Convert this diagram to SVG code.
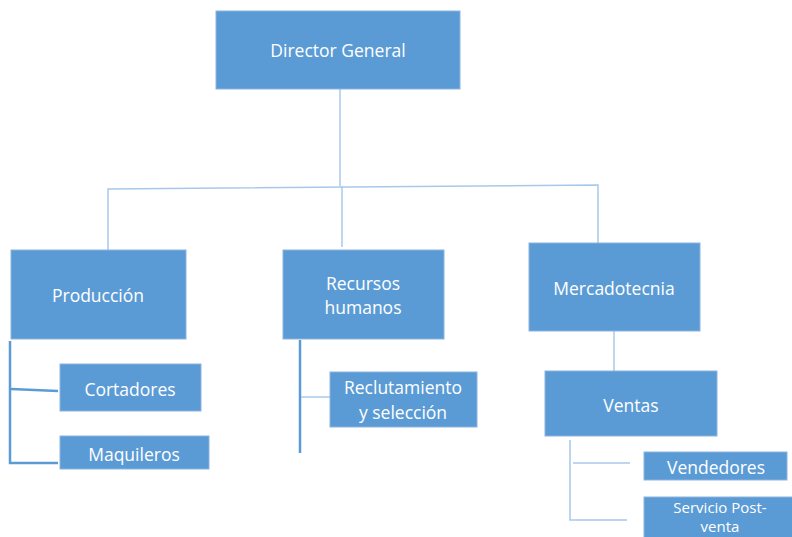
<svg xmlns="http://www.w3.org/2000/svg" width="792" height="537" viewBox="0 0 792 537">
<style>
.box{fill:#5b9bd5;stroke:#8db3de;stroke-width:1}
.t{fill:#ffffff;font-family:"Open Sans","Liberation Sans",sans-serif;font-size:17.5px;text-anchor:middle;dominant-baseline:central}
.s{font-size:15px}
.c{fill:none;stroke:#a8c8ea;stroke-width:1.5}
.k{fill:none;stroke:#5b9bd5;stroke-width:2.5}
</style>
<rect width="792" height="537" fill="#ffffff"/>
<g id="connectors">
<path class="c" d="M340,89 V186"/>
<path class="c" d="M108,250 V189 L598,185 V243"/>
<path class="c" d="M342,186 V247"/>
<path class="c" d="M614,331 V371"/>
<path class="k" d="M10,341 V463 H58"/>
<path class="k" d="M11,389 L58,391"/>
<path class="k" d="M300,340 V453"/>
<path class="c" d="M301,397 H330"/>
<path class="c" d="M570,440 V520 H627"/>
<path class="c" d="M573,463 H630"/>
</g>
<g id="director"><rect class="box" x="216" y="11" width="244" height="78"/><text class="t" x="338" y="50">Director General</text></g>
<g id="produccion"><rect class="box" x="11" y="250" width="175" height="89"/><text class="t" x="98" y="295">Producción</text></g>
<g id="rrhh"><rect class="box" x="283" y="250" width="161" height="89"/><text class="t" x="363" y="283">Recursos</text><text class="t" x="363" y="307">humanos</text></g>
<g id="mercadotecnia"><rect class="box" x="529" y="243" width="171" height="88"/><text class="t" x="614" y="288">Mercadotecnia</text></g>
<g id="ventas"><rect class="box" x="545" y="371" width="172" height="65"/><text class="t" x="631" y="405">Ventas</text></g>
<g id="cortadores"><rect class="box" x="60" y="364" width="141" height="47"/><text class="t" x="130" y="389">Cortadores</text></g>
<g id="maquileros"><rect class="box" x="60" y="436" width="149" height="33"/><text class="t" x="134" y="454">Maquileros</text></g>
<g id="reclutamiento"><rect class="box" x="330" y="372" width="147" height="55"/><text class="t" x="403" y="387">Reclutamiento</text><text class="t" x="403" y="412">y selección</text></g>
<g id="vendedores"><rect class="box" x="644" y="452" width="143" height="28"/><text class="t" x="716" y="467">Vendedores</text></g>
<g id="postventa"><rect class="box" x="644" y="497" width="150" height="45"/><text class="t s" x="720" y="507">Servicio Post-</text><text class="t s" x="720" y="526">venta</text></g>
</svg>
